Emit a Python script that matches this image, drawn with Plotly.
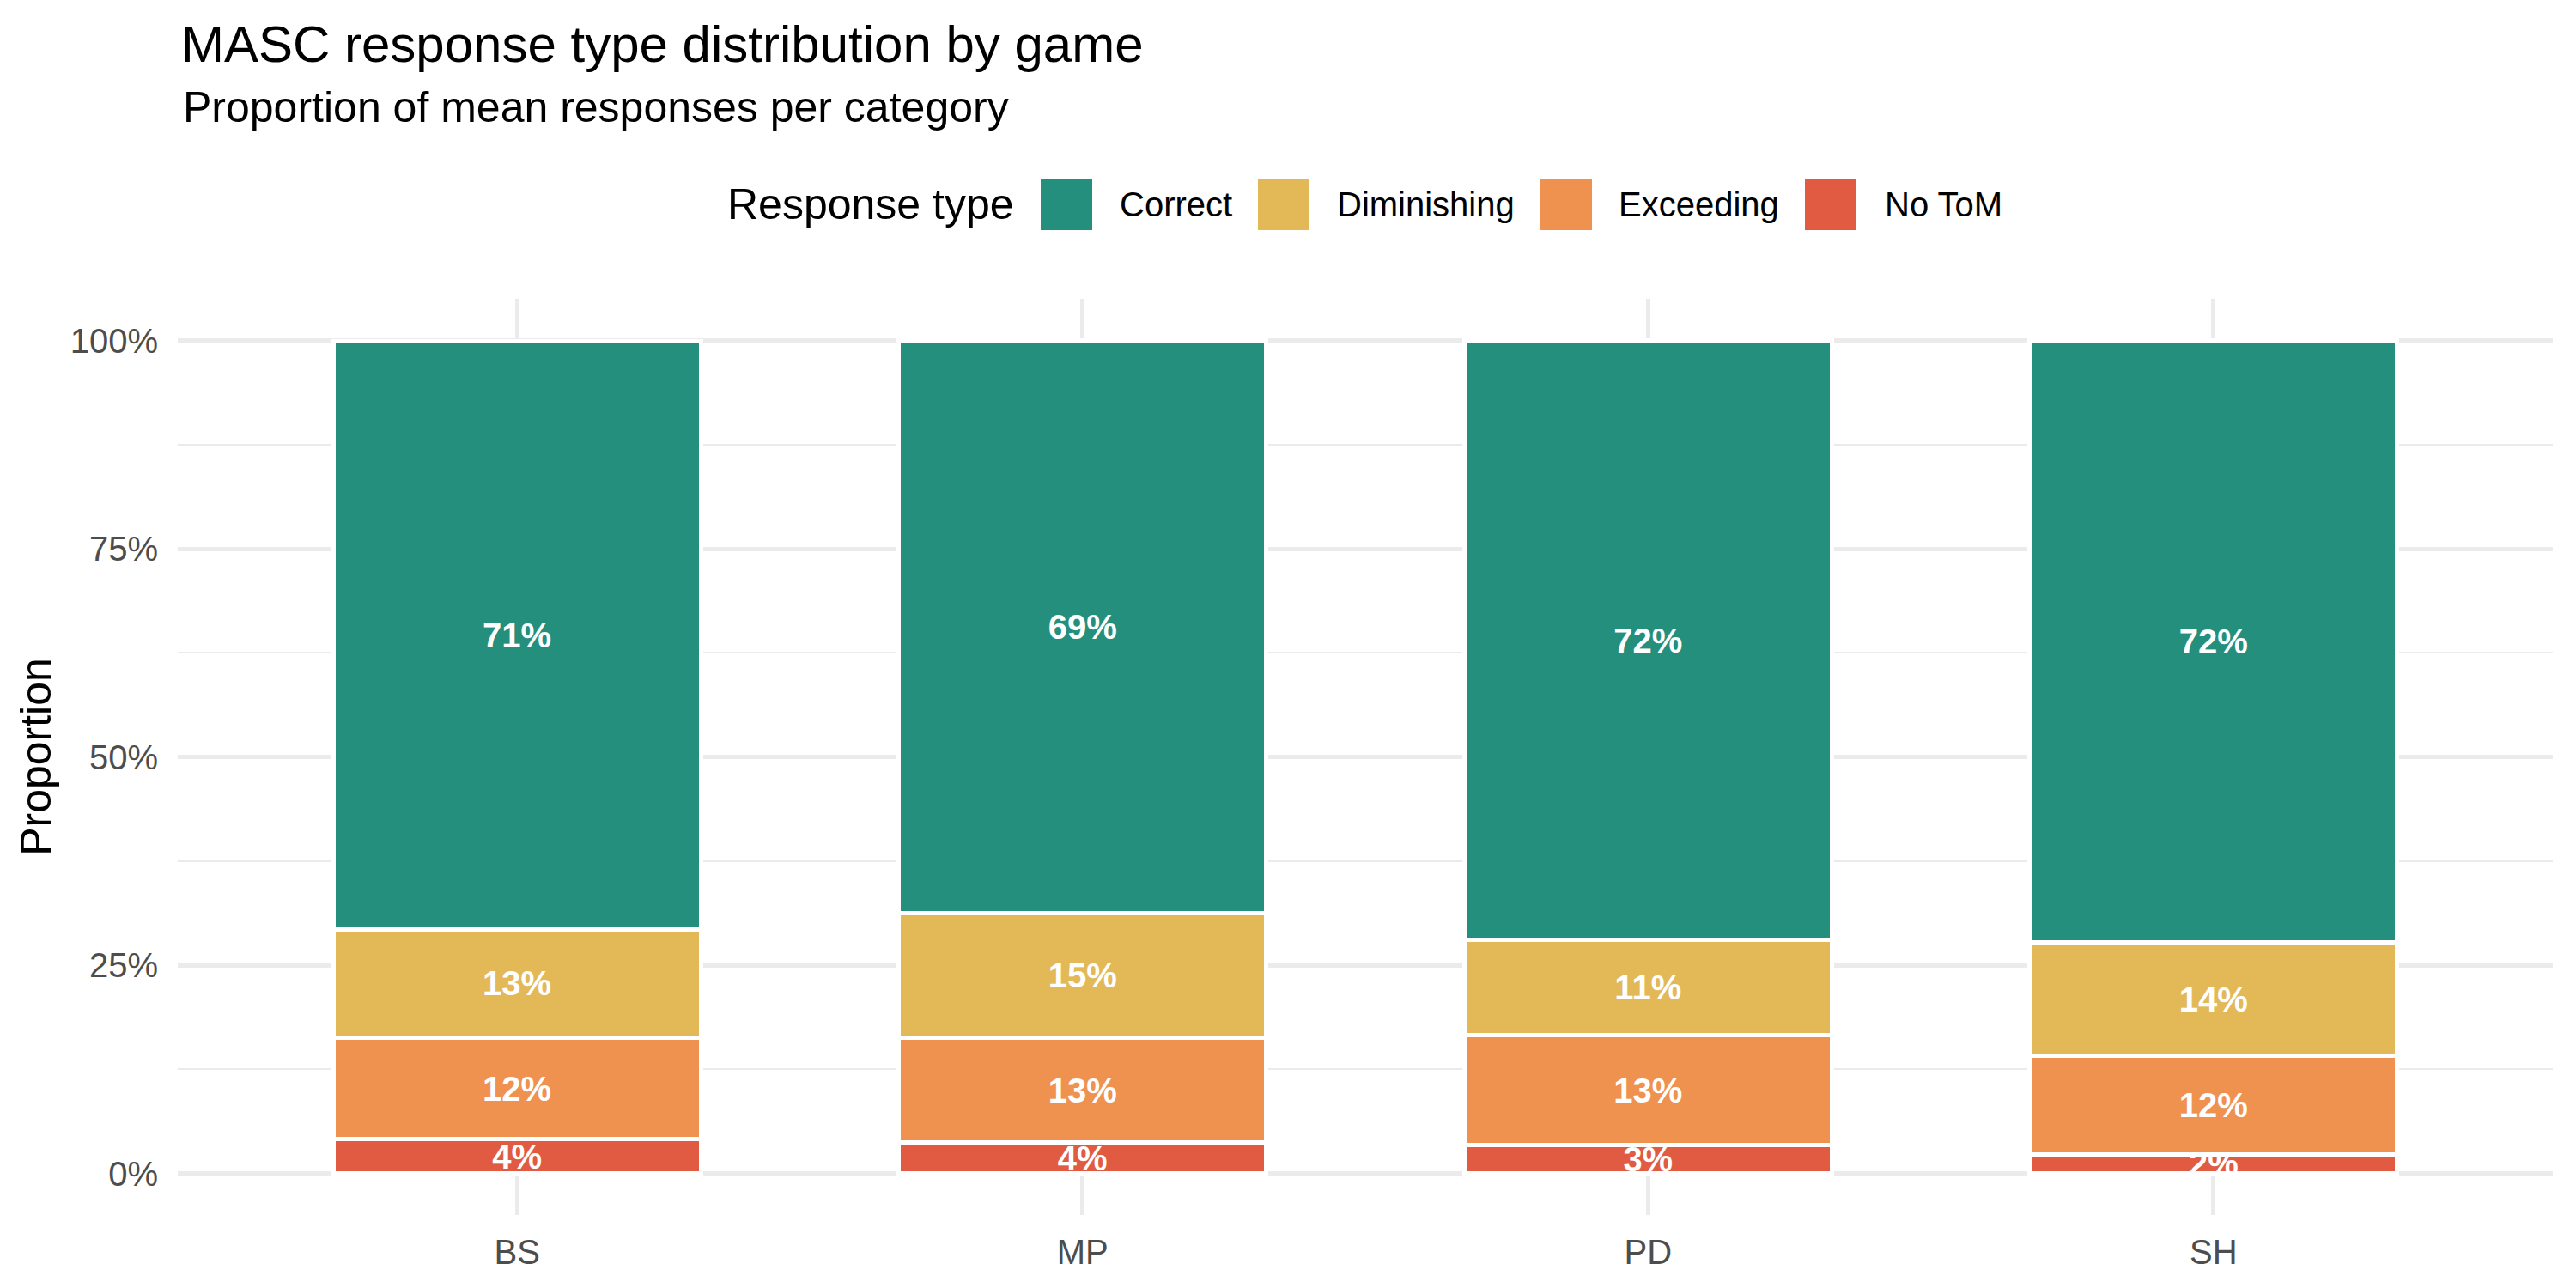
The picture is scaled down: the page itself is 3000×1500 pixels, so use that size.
import plotly.graph_objects as go

# ---- data ----
games = ["BS", "MP", "PD", "SH"]
response_types = ["Correct", "Diminishing", "Exceeding", "No ToM"]
correct = [0.706, 0.688, 0.720, 0.723]
diminishing = [0.130, 0.149, 0.114, 0.136]
exceeding = [0.122, 0.126, 0.132, 0.118]
no_tom = [0.041, 0.037, 0.034, 0.023]
y_tick_vals = [0, 0.25, 0.5, 0.75, 1.0]
y_tick_text = ["0%", "25%", "50%", "75%", "100%"]
y_minor_vals = [0.125, 0.375, 0.625, 0.875]

colors = {
    "Correct": "#258F7D",
    "Diminishing": "#E3B958",
    "Exceeding": "#EF914F",
    "No ToM": "#E05B42",
}
series = {
    "Correct": correct,
    "Diminishing": diminishing,
    "Exceeding": exceeding,
    "No ToM": no_tom,
}

FONT = "Liberation Sans, Arial, Helvetica, sans-serif"
OFF = 8  # default page body margin
W, H = 3000 - OFF, 1500 - OFF
ML, MT = 207 - OFF, 348 - OFF
MR, MB = 27, 85
PW = W - ML - MR
PH = H - MT - MB


def xp(px):
    # px measured in page pixels
    return (px - OFF - ML) / PW


def yp(py):
    return (H - MB - (py - OFF)) / PH


fig = go.Figure()

# stack from bottom: No ToM, Exceeding, Diminishing, Correct
for name in ["No ToM", "Exceeding", "Diminishing", "Correct"]:
    vals = series[name]
    fig.add_trace(go.Bar(
        x=games,
        y=vals,
        name=name,
        width=0.65,
        marker=dict(color=colors[name], line=dict(color="white", width=5)),
        text=[f"{round(v * 100)}%" for v in vals],
        textposition="inside",
        insidetextanchor="middle",
        textangle=0,
        constraintext="none",
        textfont=dict(family=FONT, size=40, color="white", weight="bold"),
        showlegend=False,
        hoverinfo="x+y+name",
    ))

fig.update_layout(
    barmode="stack",
    width=W,
    height=H,
    margin=dict(l=ML, r=MR, t=MT, b=MB, autoexpand=False),
    paper_bgcolor="white",
    plot_bgcolor="white",
    font=dict(family=FONT, color="black"),
    title=dict(
        text="MASC response type distribution by game",
        font=dict(family=FONT, size=60, color="black"),
        x=xp(211), xref="paper", xanchor="left",
        y=1 - (50.5 - OFF) / H, yref="container", yanchor="middle",
    ),
    xaxis=dict(
        type="category",
        range=[-0.6, 3.6],
        showgrid=True,
        gridcolor="#EBEBEB",
        gridwidth=4.5,
        zeroline=False,
        showline=False,
        ticks="",
        tickfont=dict(family=FONT, size=40, color="#4D4D4D"),
        ticklabelstandoff=16,
    ),
    yaxis=dict(
        range=[-0.05, 1.05],
        tickmode="array",
        tickvals=y_tick_vals,
        ticktext=y_tick_text,
        showgrid=True,
        gridcolor="#EBEBEB",
        gridwidth=4.5,
        zeroline=False,
        showline=False,
        ticks="",
        tickfont=dict(family=FONT, size=40, color="#4D4D4D"),
        ticklabelstandoff=22,
        minor=dict(tickvals=y_minor_vals, showgrid=True, gridcolor="#EBEBEB", gridwidth=2.3, ticks=""),
        title=dict(text="Proportion", font=dict(family=FONT, size=50, color="black"), standoff=6),
    ),
)

# subtitle
fig.add_annotation(
    text="Proportion of mean responses per category",
    xref="paper", yref="paper", x=xp(211), y=yp(124.5),
    xanchor="left", yanchor="middle", showarrow=False,
    font=dict(family=FONT, size=50, color="black"),
)

# manual legend (large square keys as in the reference)
legend_y = 238
fig.add_annotation(
    text="Response type",
    xref="paper", yref="paper", x=xp(845), y=yp(legend_y),
    xanchor="left", yanchor="middle", showarrow=False,
    font=dict(family=FONT, size=50, color="black"),
)
key_left = [1212, 1465, 1794, 2102]
label_left = [1302, 1555, 1883, 2193]
for name, kx, lx in zip(response_types, key_left, label_left):
    fig.add_shape(
        type="rect", xref="paper", yref="paper",
        x0=xp(kx), x1=xp(kx + 60), y0=yp(legend_y + 30), y1=yp(legend_y - 30),
        fillcolor=colors[name], line=dict(width=0),
    )
    fig.add_annotation(
        text=name,
        xref="paper", yref="paper", x=xp(lx), y=yp(legend_y),
        xanchor="left", yanchor="middle", showarrow=False,
        font=dict(family=FONT, size=40, color="black"),
    )

fig.write_html("out.html")
